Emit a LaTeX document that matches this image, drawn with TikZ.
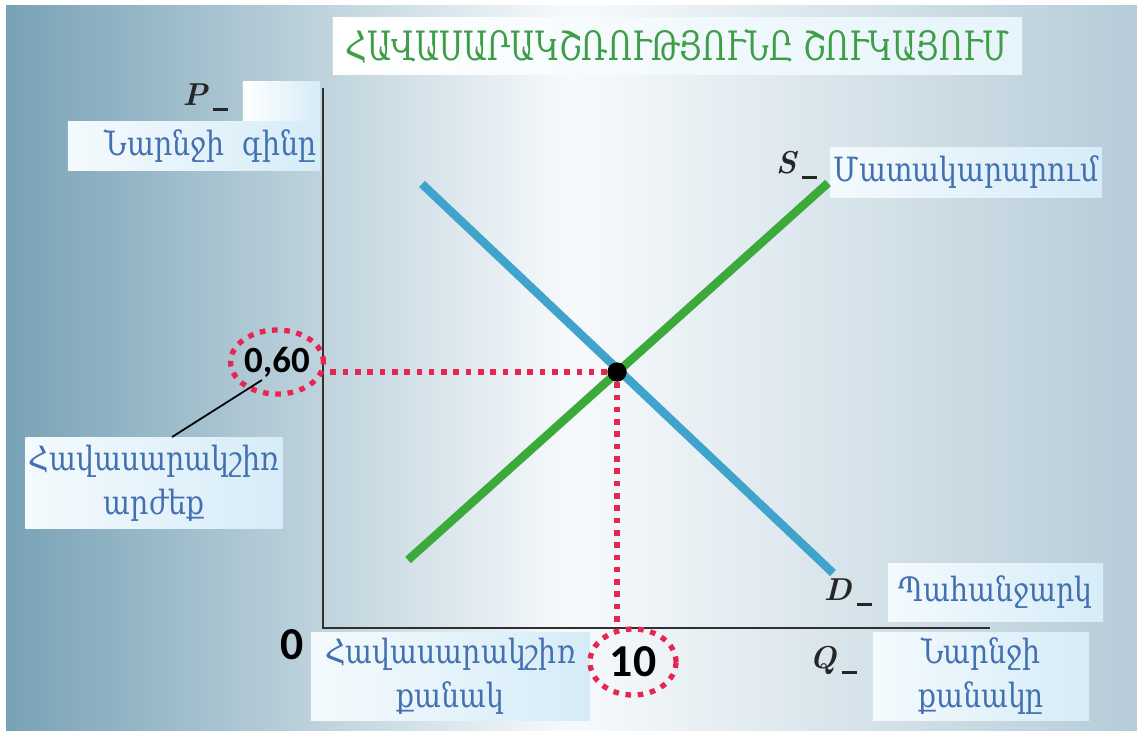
\documentclass[tikz,border=0pt]{standalone}
\usepackage{fontspec}
\newfontfamily\arm[FakeStretch=0.85]{DejaVu Serif}
\newfontfamily\armtitle[FakeStretch=0.74]{DejaVu Serif}
\newfontfamily\numfont{Carlito}
\usetikzlibrary{shapes.geometric}
\definecolor{bgL}{HTML}{78A2B6}
\definecolor{bgM}{HTML}{F7FAFC}
\definecolor{bgR}{HTML}{B6CCD8}
\definecolor{boxL}{HTML}{F4FAFD}
\definecolor{boxR}{HTML}{D6ECF8}
\definecolor{titlebox}{HTML}{E6F4FB}
\definecolor{armblue}{HTML}{4270B0}
\definecolor{titlegreen}{HTML}{3E9E47}
\definecolor{demandc}{HTML}{3FA3CC}
\definecolor{supplyc}{HTML}{3BAA3B}
\definecolor{dotred}{HTML}{E82450}
\definecolor{axisgray}{HTML}{303030}
\newcommand{\shortbar}{\rule[-1.6pt]{4.2pt}{0.7pt}}
\begin{document}
\begin{tikzpicture}[x=0.01cm,y=-0.01cm,
  lbox/.style={left color=boxL, right color=boxR, draw=none, inner sep=1pt},
  armtext/.style={font=\arm\fontsize{9.5}{12.5}\selectfont, text=armblue, align=center},
  axislabel/.style={font=\bfseries\itshape\fontsize{9}{11}\selectfont, text=black!85},
  redell/.style={ellipse, draw=dotred, line width=1.5pt, dash pattern=on 1.6pt off 1.9pt, inner sep=0pt},
  reddot/.style={draw=dotred, line width=1.5pt, dash pattern=on 1.6pt off 1.9pt},
  curveline/.style={line width=2.4pt},
  axisline/.style={draw=axisgray, line width=0.75pt}
]
\useasboundingbox (0,0) rectangle (1137,730);
\fill[white] (0,0) rectangle (1137,730);
\shade[left color=bgL, right color=bgR, middle color=bgM] (6,5) rectangle (1137,730);

% boxes
\node[left color=white, right color=titlebox, draw=none, minimum width=6.89cm, minimum height=0.48cm,
      font=\armtitle\fontsize{11.5}{13}\selectfont, text=titlegreen] (title) at (677.5,46) {ՀԱՎԱՍԱՐԱԿՇՌՈՒԹՅՈՒՆԸ ՇՈՒԿԱՅՈՒՄ};
\node[left color=white, right color=boxR, draw=none, minimum width=0.77cm, minimum height=0.40cm] (pbox) at (281.5,102) {};
\node[lbox, minimum width=2.52cm, minimum height=0.48cm] (pricebox) at (194,146) {};
\node[armtext, anchor=east, inner sep=1pt] (pricetext) at (pricebox.east) {Նարնջի\ \ գինը};
\node[lbox, armtext, minimum width=2.62cm, minimum height=0.49cm] (supplybox) at (966,172.5) {Մատակարարում};
\node[lbox, armtext, minimum width=2.52cm, minimum height=0.90cm] (eqvalbox) at (154,483) {Հավասարակշիռ\\արժեք};
\node[lbox, armtext, minimum width=2.79cm, minimum height=0.87cm] (eqqtybox) at (450.5,676.5) {Հավասարակշիռ\\քանակ};
\node[lbox, armtext, minimum width=2.15cm, minimum height=0.57cm] (demandbox) at (995.5,592.5) {Պահանջարկ};
\node[lbox, armtext, minimum width=2.16cm, minimum height=0.87cm] (qtybox) at (981,676.5) {Նարնջի\\քանակը};

% axes
\coordinate (ytop) at (323,88);
\coordinate (origin) at (323,628);
\coordinate (xend) at (990,628);
\draw[axisline] (ytop) -- (origin) -- (xend);

% curves
\coordinate (d1) at (422,184);
\coordinate (d2) at (833,573);
\coordinate (s1) at (408,560);
\coordinate (s2) at (828,183);
\draw[curveline, draw=demandc] (d1) -- (d2);
\draw[curveline, draw=supplyc] (s1) -- (s2);

% value ellipses
\node[redell, minimum width=0.88cm, minimum height=0.64cm, font=\numfont\bfseries\fontsize{10.5}{12}\selectfont] (v060) at (277,362) {0,60};
\node[redell, minimum width=0.86cm, minimum height=0.66cm, font=\numfont\bfseries\fontsize{13}{14}\selectfont] (v10) at (633,662) {10};

% equilibrium
\node[circle, fill=black, inner sep=0pt, minimum size=0.19cm] (eq) at (617,372) {};
\draw[reddot] (eq) -- (v060.east |- eq);
\draw[reddot] (eq) -- (eq |- v10.north);
\node[circle, fill=black, inner sep=0pt, minimum size=0.19cm] (eqdot) at (eq) {};

% leader
\coordinate (leadA) at (262,380);
\coordinate (leadB) at (172,437);
\draw[black, line width=0.5pt] (leadA) -- (leadB);

% axis letters
\node[axislabel, anchor=east] (plabel) at (240,97) {P\,\shortbar};
\node[axislabel, anchor=east] (slabel) at (829,165) {S\,\shortbar};
\node[axislabel, anchor=east] (dlabel) at (884,592) {D\,\shortbar};
\node[axislabel, anchor=east] (qlabel) at (869,660) {Q\,\shortbar};
\node[font=\numfont\bfseries\fontsize{13}{15}\selectfont] (zero) at (292,645) {0};
\end{tikzpicture}
\end{document}
